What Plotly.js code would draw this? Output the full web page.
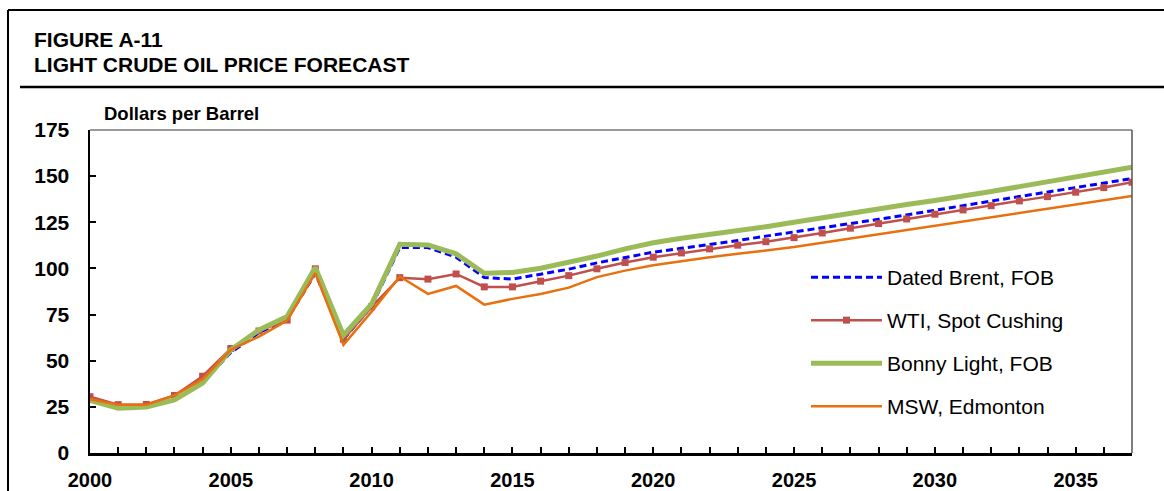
<!DOCTYPE html>
<html>
<head>
<meta charset="utf-8">
<script src="https://cdn.plot.ly/plotly-3.0.1.min.js"></script>
<style>
  html, body { margin: 0; padding: 0; background: #fff; }
  #chart { width: 1164px; height: 491px; }
</style>
</head>
<body>
<div id="chart"></div>
<script>
// ---- data ----
const years = [2000,2001,2002,2003,2004,2005,2006,2007,2008,2009,2010,2011,2012,2013,2014,2015,2016,2017,2018,2019,2020,2021,2022,2023,2024,2025,2026,2027,2028,2029,2030,2031,2032,2033,2034,2035,2036,2037];

const datedBrent = [28.5,24.4,25.0,28.8,38.3,54.5,65.1,72.4,97.3,61.7,79.5,111.3,111.3,106.1,95.1,94.2,96.9,99.6,103.0,106.1,108.8,110.9,112.9,115.1,117.5,119.7,122.0,124.3,126.6,129.0,131.3,134.0,136.5,138.9,141.4,143.8,146.2,148.7];

const wtiCushing = [30.5,26.2,26.3,31.2,41.6,56.6,66.1,72.0,99.8,61.7,79.2,95.0,94.2,97.0,90.0,90.0,93.1,96.1,99.8,103.2,106.1,108.4,110.6,112.6,114.5,116.7,119.2,121.8,124.3,126.8,129.4,131.7,134.0,136.6,138.9,141.3,143.8,146.7];

const bonnyLight = [28.5,24.3,24.9,28.8,37.9,55.9,66.7,73.9,100.5,63.8,80.7,113.1,112.7,107.9,97.4,97.8,100.1,103.2,106.7,110.6,113.9,116.4,118.3,120.3,122.6,125.0,127.5,129.9,132.2,134.6,136.8,139.0,141.7,144.3,147.0,149.7,152.3,154.8];

const mswEdmonton = [29.2,26.1,26.1,31.2,40.0,55.9,63.1,71.8,97.4,58.6,76.6,95.6,86.2,90.5,80.4,83.5,86.1,89.6,95.3,98.8,101.7,104.1,106.1,107.9,109.6,111.6,113.9,116.2,118.5,120.9,123.1,125.4,127.7,130.1,132.4,134.7,137.0,139.3];

const seriesNames = ["Dated Brent, FOB", "WTI, Spot Cushing", "Bonny Light, FOB", "MSW, Edmonton"];
const xTickVals = [2000,2005,2010,2015,2020,2025,2030,2035];
const xTickText = ["2000","2005","2010","2015","2020","2025","2030","2035"];
const yTickVals = [0,25,50,75,100,125,150,175];
const titleLines = ["FIGURE A-11", "LIGHT CRUDE OIL PRICE FORECAST"];
const yUnitLabel = "Dollars per Barrel";

// ---- geometry helpers (pixel -> paper) ----
const W = 1164, H = 491;
const M = {l: 90, r: 32, t: 130, b: 38};
const PW = W - M.l - M.r, PH = H - M.t - M.b;
const px = x => (x - M.l) / PW;
const py = y => (H - M.b - y) / PH;

const FONT = "Arial, 'Liberation Sans', sans-serif";

const traces = [
  {x: years, y: datedBrent, name: seriesNames[0], type: "scatter", mode: "lines",
   line: {color: "#0000FF", width: 3, dash: "7px,4px"}, legendgroup: "a"},
  {x: years, y: wtiCushing, name: seriesNames[1], type: "scatter", mode: "lines+markers",
   line: {color: "#C0504D", width: 2.5}, marker: {symbol: "square", size: 7, color: "#C0504D"}, legendgroup: "b"},
  {x: years, y: bonnyLight, name: seriesNames[2], type: "scatter", mode: "lines",
   line: {color: "#9BBB59", width: 5}, legendgroup: "c"},
  {x: years, y: mswEdmonton, name: seriesNames[3], type: "scatter", mode: "lines",
   line: {color: "#E8700F", width: 2.5}, legendgroup: "d"}
];

const layout = {
  width: W, height: H,
  margin: M,
  paper_bgcolor: "#fff", plot_bgcolor: "#fff",
  font: {family: FONT, color: "#000"},
  showlegend: true,
  legend: {
    x: px(806), y: py(257), xanchor: "left", yanchor: "top",
    bgcolor: "rgba(0,0,0,0)", borderwidth: 0,
    font: {family: FONT, size: 21, color: "#000"},
    traceorder: "grouped", tracegroupgap: 12.7, itemwidth: 71
  },
  xaxis: {
    range: [2000, 2037], tickmode: "array", tickvals: xTickVals, ticktext: xTickText,
    ticks: "inside", ticklen: 6, tickwidth: 2, tickcolor: "#000",
    minor: {dtick: 1, tick0: 2000, ticks: "inside", ticklen: 6, tickwidth: 2, tickcolor: "#000"},
    showline: true, linecolor: "#000", linewidth: 2.5,
    showgrid: false, zeroline: false, fixedrange: true,
    tickfont: {family: FONT, size: 20, weight: "bold", color: "#000"},
    ticklabelstandoff: 7
  },
  yaxis: {
    range: [0, 175], tickmode: "array", tickvals: yTickVals,
    ticks: "inside", ticklen: 6, tickwidth: 2, tickcolor: "#000",
    showline: true, linecolor: "#000", linewidth: 2.5,
    showgrid: false, zeroline: false, fixedrange: true,
    tickfont: {family: FONT, size: 21, weight: "bold", color: "#000"},
    ticklabelstandoff: 14
  },
  shapes: [
    // plot area top and right border
    {type: "line", xref: "paper", yref: "paper", x0: 0, x1: 1, y0: 1, y1: 1, line: {color: "#777", width: 1.5}},
    {type: "line", xref: "paper", yref: "paper", x0: 1, x1: 1, y0: 0, y1: 1, line: {color: "#555", width: 1.5}},
    // outer frame
    {type: "line", xref: "paper", yref: "paper", x0: px(8), x1: px(8), y0: py(10), y1: py(495), line: {color: "#000", width: 2}},
    {type: "line", xref: "paper", yref: "paper", x0: px(8), x1: px(1170), y0: py(10), y1: py(10), line: {color: "#000", width: 2}},
    // rule under title
    {type: "line", xref: "paper", yref: "paper", x0: px(20), x1: px(1170), y0: py(87), y1: py(87), line: {color: "#000", width: 2.5}}
  ],
  annotations: [
    {text: titleLines[0], xref: "paper", yref: "paper", x: px(32), y: py(40), xanchor: "left", yanchor: "middle",
     showarrow: false, font: {family: FONT, size: 21, weight: "bold", color: "#000"}},
    {text: titleLines[1], xref: "paper", yref: "paper", x: px(32), y: py(64), xanchor: "left", yanchor: "middle",
     showarrow: false, font: {family: FONT, size: 21, weight: "bold", color: "#000"}},
    {text: yUnitLabel, xref: "paper", yref: "paper", x: px(102), y: py(113), xanchor: "left", yanchor: "middle",
     showarrow: false, font: {family: FONT, size: 18.5, weight: "bold", color: "#000"}}
  ]
};

Plotly.newPlot("chart", traces, layout, {staticPlot: true, displayModeBar: false});
</script>
</body>
</html>
